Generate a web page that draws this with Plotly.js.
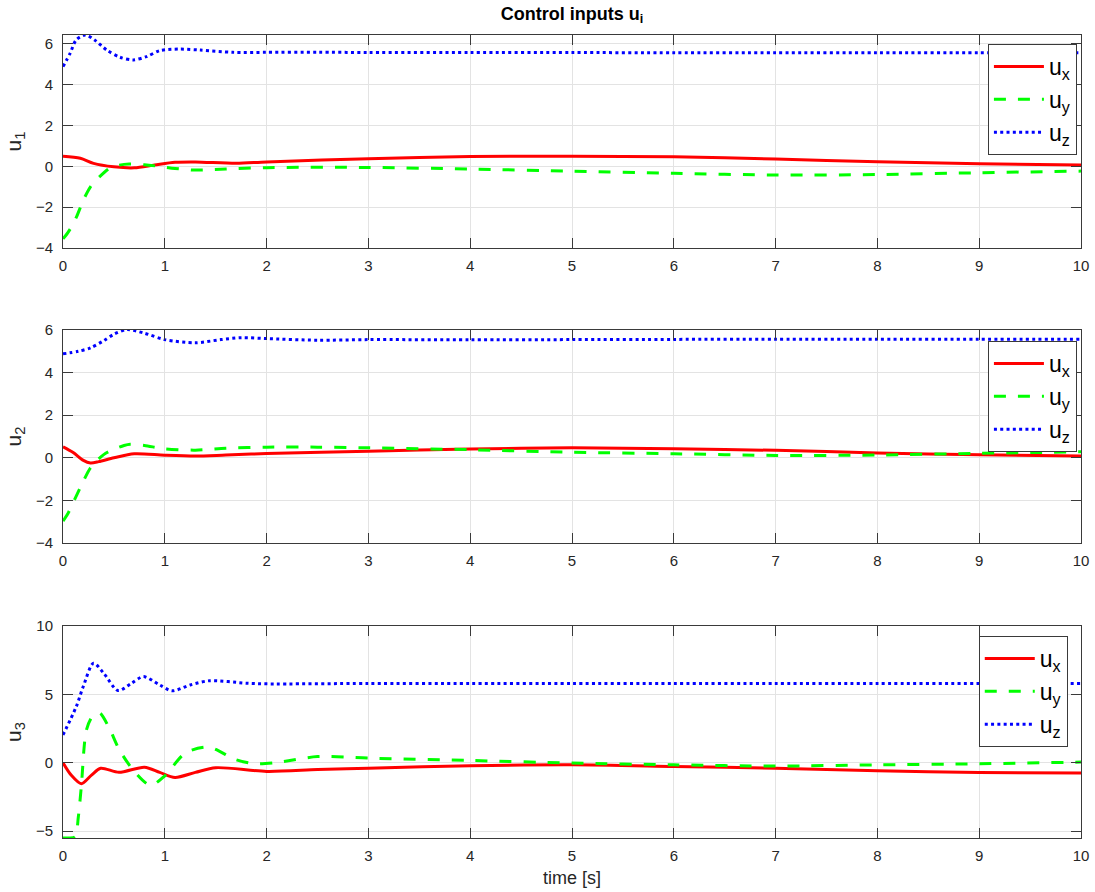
<!DOCTYPE html>
<html>
<head>
<meta charset="utf-8">
<script src="https://cdn.plot.ly/plotly-3.0.1.min.js"></script>
<style>html,body{margin:0;padding:0;background:#fff;}#chart{width:1095px;height:892px;}</style>
</head>
<body>
<div id="chart"></div>
<script>
// ---- Data ----
// Subplot 1 (u1)
const t1x = [0,0.17,0.3,0.5,0.7,0.9,1.1,1.3,1.7,2,3,4,5,6,7,8,9,10];
const u1x = [0.5,0.4,0.15,-0.02,-0.07,0.07,0.2,0.22,0.15,0.22,0.38,0.48,0.5,0.47,0.36,0.23,0.13,0.07];
const t1y = [0,0.04,0.085,0.135,0.2,0.27,0.36,0.46,0.55,0.65,0.8,0.95,1.1,1.3,1.6,2,3,4,5,6,7,8,9,10];
const u1y = [-3.55,-3.3,-2.95,-2.45,-1.65,-1.0,-0.5,-0.08,0.06,0.12,0.08,0.0,-0.1,-0.18,-0.13,-0.06,-0.05,-0.13,-0.23,-0.34,-0.42,-0.4,-0.31,-0.23];
const t1z = [0,0.07,0.13,0.22,0.31,0.43,0.56,0.69,0.82,0.95,1.15,1.35,1.67,2,2.5,3,4,5,6,7,8,9,10];
const u1z = [4.89,5.54,6.2,6.44,6.2,5.7,5.35,5.22,5.38,5.67,5.75,5.7,5.59,5.59,5.6,5.58,5.58,5.58,5.57,5.57,5.57,5.57,5.57];

// Subplot 2 (u2)
const t2x = [0,0.1,0.2,0.27,0.35,0.5,0.7,1.0,1.3,1.6,2,3,4,5,6,7,8,9,10];
const u2x = [0.52,0.25,-0.12,-0.24,-0.18,0.0,0.19,0.12,0.08,0.13,0.2,0.31,0.41,0.47,0.42,0.35,0.23,0.14,0.08];
const t2y = [0,0.05,0.13,0.2,0.27,0.4,0.5,0.6,0.66,0.8,1.0,1.3,1.6,2,2.5,3,4,5,6,7,8,9,10];
const u2y = [-2.97,-2.6,-1.8,-1.1,-0.47,0.15,0.4,0.58,0.64,0.58,0.42,0.36,0.45,0.5,0.5,0.47,0.38,0.26,0.19,0.11,0.13,0.21,0.28];
const t2z = [0,0.15,0.27,0.4,0.5,0.63,0.8,1.0,1.3,1.55,1.75,2,2.5,3,4,5,6,7,8,9,10];
const u2z = [4.88,5.0,5.16,5.5,5.8,6.02,5.85,5.55,5.4,5.55,5.64,5.6,5.52,5.55,5.54,5.55,5.56,5.57,5.57,5.57,5.57];

// Subplot 3 (u3)
const t3x = [0,0.08,0.18,0.28,0.37,0.55,0.8,0.95,1.1,1.3,1.5,2,2.5,3,4,5,6,7,8,9,10];
const u3x = [0,-0.9,-1.53,-0.9,-0.4,-0.7,-0.32,-0.7,-1.07,-0.7,-0.36,-0.63,-0.5,-0.4,-0.22,-0.15,-0.27,-0.4,-0.58,-0.71,-0.75];
const t3y = [0,0.06,0.12,0.15,0.18,0.23,0.29,0.36,0.45,0.55,0.7,0.86,1.0,1.2,1.43,1.7,1.9,2.1,2.5,3,4,5,6,7,8,9,10];
const u3y = [-5.5,-5.5,-5.4,-4.0,-1.73,2.4,3.4,3.63,2.6,1.0,-0.63,-1.65,-0.95,0.7,1.15,0.22,-0.07,0.02,0.45,0.34,0.17,-0.02,-0.15,-0.24,-0.15,-0.07,0.05];
const t3z = [0,0.13,0.2,0.3,0.4,0.54,0.67,0.79,0.95,1.07,1.25,1.44,1.8,2,3,4,5,6,7,8,9,10];
const u3z = [2.04,4.1,5.6,7.28,6.55,5.28,5.8,6.3,5.69,5.26,5.69,6.0,5.82,5.77,5.8,5.8,5.8,5.8,5.8,5.8,5.8,5.8];

const seriesNames = ['u<sub>x</sub>','u<sub>y</sub>','u<sub>z</sub>'];
const yTitles = ['u<sub>1</sub>','u<sub>2</sub>','u<sub>3</sub>'];
const xTitle = 'time [s]';
const chartTitle = '<b>Control inputs u<sub>i</sub></b>';

// ---- Styles ----
const FONT = 'Liberation Sans, Arial, Helvetica, sans-serif';
const styles = [
  {color:'#ff0000', width:3, dash:'solid'},
  {color:'#00ff00', width:3, dash:'12px,12px'},
  {color:'#0000ff', width:3, dash:'3px,3.3px'}
];
const groups = [
  [[t1x,u1x],[t1y,u1y],[t1z,u1z]],
  [[t2x,u2x],[t2y,u2y],[t2z,u2z]],
  [[t3x,u3x],[t3y,u3y],[t3z,u3z]]
];

const traces = [];
groups.forEach((g, gi) => {
  g.forEach((s, si) => {
    traces.push({
      x: s[0], y: s[1], type:'scatter', mode:'lines',
      name: seriesNames[si],
      line: Object.assign({shape:'spline', smoothing:0.8}, styles[si]),
      xaxis: gi === 0 ? 'x' : 'x' + (gi+1),
      yaxis: gi === 0 ? 'y' : 'y' + (gi+1),
      legend: gi === 0 ? 'legend' : 'legend' + (gi+1),
      showlegend: true
    });
  });
});

const axisCommon = {
  showline:true, linecolor:'#3a3a3a', linewidth:1, mirror:'ticks',
  ticks:'inside', ticklen:10, tickcolor:'#3a3a3a', tickwidth:1,
  showgrid:true, gridcolor:'#e3e3e3', gridwidth:1, zeroline:false,
  tickfont:{family:FONT, size:15, color:'#262626'}
};
function xa(anchor){
  return Object.assign({}, axisCommon, {range:[0,10], tick0:0, dtick:1, anchor:anchor, domain:[0,1], ticklabelstandoff:4});
}
function ya(domain, range, dtick, anchor, title){
  return Object.assign({}, axisCommon, {range:range, tick0:0, dtick:dtick, anchor:anchor, domain:domain,
    ticklabelstandoff:6,
    title:{text:title, font:{family:FONT, size:21, color:'#262626'}, standoff:8}});
}
const xa3 = xa('y3');
xa3.title = {text:xTitle, font:{family:FONT, size:18, color:'#262626'}, standoff:8};

const legendCommon = {
  xref:'paper', yref:'paper', xanchor:'right', yanchor:'top',
  bgcolor:'#ffffff', bordercolor:'#3a3a3a', borderwidth:1,
  itemwidth:50,
  font:{family:FONT, size:23, color:'#000000'}
};

const layout = {
  width:1095, height:892,
  margin:{l:63, r:14, t:35, b:54},
  paper_bgcolor:'#ffffff', plot_bgcolor:'#ffffff',
  showlegend:true,
  title:{text:chartTitle, font:{family:FONT, size:18, color:'#000000'},
         xref:'paper', x:0.5, xanchor:'center', yref:'container', y:0.985, yanchor:'middle'},
  xaxis: xa('y'),
  xaxis2: xa('y2'),
  xaxis3: xa3,
  yaxis: ya([0.7347,1], [-4,6.44], 2, 'x', yTitles[0]),
  yaxis2: ya([0.3674,0.6326], [-4,6], 2, 'x2', yTitles[1]),
  yaxis3: ya([0,0.264], [-5.5,10], 5, 'x3', yTitles[2]),
  legend: Object.assign({}, legendCommon, {x:0.996, y:0.9888}),
  legend2: Object.assign({}, legendCommon, {x:0.996, y:0.619}),
  legend3: Object.assign({}, legendCommon, {x:0.987, y:0.2516})
};

Plotly.newPlot('chart', traces, layout, {displayModeBar:false, staticPlot:true});
</script>
</body>
</html>
